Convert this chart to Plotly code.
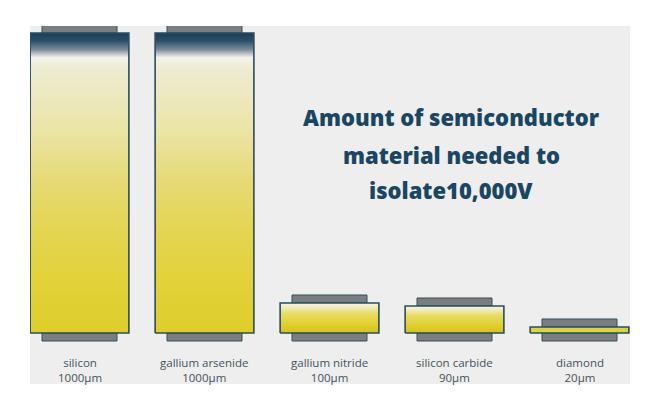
import plotly.graph_objects as go

# ---- data ----
materials = ["silicon", "gallium arsenide", "gallium nitride", "silicon carbide", "diamond"]
thickness_um = [1000, 1000, 100, 90, 20]
title_lines = ["Amount of semiconductor", "material needed to", "isolate10,000V"]

# ---- styles ----
BAR_W = 0.79
ELEC_W = 0.60
ELEC_H = 26.7          # electrode thickness in axis units (decorative)
OUTLINE = "#2b4d5c"
ELEC_COL = "#7b7e81"
PANEL = "#eeeeee"

tall_scale = [
    [0.000, "#dfcd2a"], [0.183, "#e3d23a"], [0.350, "#e4d552"], [0.517, "#e6da78"],
    [0.683, "#ebe5a8"], [0.877, "#eeebd2"], [0.918, "#f3f2e8"], [0.928, "#c8ccd0"],
    [0.945, "#7a8a98"], [0.975, "#2a4d68"], [1.000, "#1a3d58"],
]
short_scale = [
    [0.00, "#d5c21a"], [0.35, "#e2d236"], [0.65, "#e8dc66"], [0.85, "#f0ebbc"],
    [1.00, "#f6f4e4"],
]
flat_scale = [[0, "#d9d348"], [1, "#d9d348"]]

fig = go.Figure()

xs = list(range(len(materials)))

# electrodes (behind)
fig.add_trace(go.Bar(x=xs, y=[ELEC_H] * len(xs), base=thickness_um, width=ELEC_W,
                     marker=dict(color=ELEC_COL, line=dict(color="#34505c", width=1)),
                     hoverinfo="skip", showlegend=False))
fig.add_trace(go.Bar(x=xs, y=[ELEC_H] * len(xs), base=[-ELEC_H] * len(xs), width=ELEC_W,
                     marker=dict(color=ELEC_COL, line=dict(color="#34505c", width=1)),
                     hoverinfo="skip", showlegend=False))

# semiconductor slabs with vertical gradient
for i, (name, t) in enumerate(zip(materials, thickness_um)):
    x0, x1 = i - BAR_W / 2, i + BAR_W / 2
    if t >= 500:
        cs = tall_scale
    elif t >= 50:
        cs = short_scale
    else:
        cs = flat_scale
    fig.add_trace(go.Scatter(
        x=[x0, x1, x1, x0, x0], y=[0, 0, t, t, 0],
        mode="lines", fill="toself",
        fillgradient=dict(type="vertical", colorscale=cs),
        line=dict(color=OUTLINE, width=1.6),
        hoverinfo="skip", showlegend=False, name=name))

# category labels
for i, (name, t) in enumerate(zip(materials, thickness_um)):
    fig.add_annotation(x=i, y=-122, xref="x", yref="y",
                       text=f"{name}<br>{t}µm", showarrow=False,
                       font=dict(family="Open Sans", size=11.5, color="#44525c"),
                       align="center", xanchor="center", yanchor="middle")

# title lines (pixel centres in page coords -> paper fraction)
PLOT_TOP, PLOT_BOTTOM = 26, 384
title_y_px = [117, 155, 190]
for line, py in zip(title_lines, title_y_px):
    fig.add_annotation(x=0.7017, y=(PLOT_BOTTOM - py) / (PLOT_BOTTOM - PLOT_TOP),
                       xref="paper", yref="paper",
                       text=line, showarrow=False,
                       font=dict(family="Open Sans", size=22, color="#1a4661", weight=800),
                       xanchor="center", yanchor="middle")

fig.update_layout(
    width=644, height=412,
    margin=dict(l=22, r=22, t=18, b=36),
    paper_bgcolor="white", plot_bgcolor=PANEL,
    barmode="overlay",
    xaxis=dict(range=[-0.396, 4.404], visible=False, fixedrange=True),
    yaxis=dict(range=[-170, 1023.3], visible=False, fixedrange=True),
    showlegend=False,
)

fig.write_html("out.html")
